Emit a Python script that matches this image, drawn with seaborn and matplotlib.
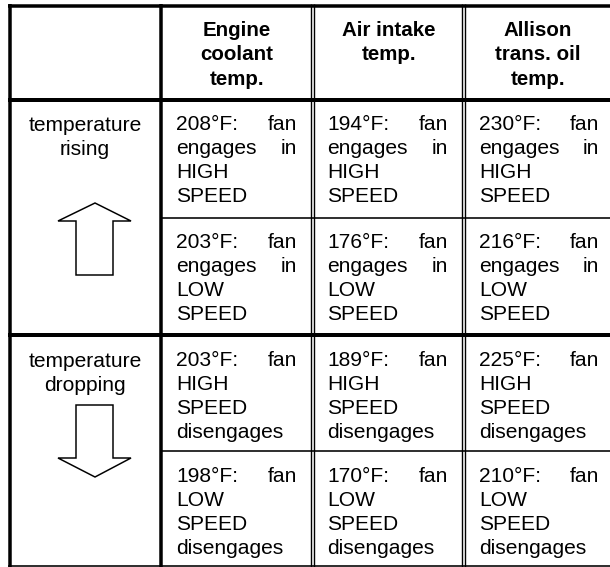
import numpy as np
import pandas as pd
import matplotlib.pyplot as plt
from matplotlib.patches import Polygon
import seaborn as sns

# Table content
headers = ["Engine\ncoolant\ntemp.", "Air intake\ntemp.", "Allison\ntrans. oil\ntemp."]
row_labels = ["temperature\nrising", "temperature\ndropping"]
rise_high = [208, 194, 230]
rise_low = [203, 176, 216]
drop_high = [203, 189, 225]
drop_low = [198, 170, 210]

# wording for each of the four body rows (lines as they wrap in the cell)
row_text = [
    ["fan", "engages in", "HIGH", "SPEED"],
    ["fan", "engages in", "LOW", "SPEED"],
    ["fan", "HIGH", "SPEED", "disengages"],
    ["fan", "LOW", "SPEED", "disengages"],
]

df = pd.DataFrame([rise_high, rise_low, drop_high, drop_low],
                  columns=["coolant", "intake", "trans"])

sns.set_style("white")
plt.rcParams['font.family'] = ['Liberation Sans', 'DejaVu Sans']
plt.rcParams['text.color'] = 'black'

W, H = 610, 567
fig = plt.figure(figsize=(W / 100, H / 100), dpi=100)
ax = fig.add_axes([0, 0, 1, 1])
ax.set_xlim(0, W)
ax.set_ylim(H, 0)
ax.axis('off')

px = 0.72  # points per pixel at 100 dpi
fs = 15.1

# layout (pixels)
row_tops = [99, 217, 335, 451]
label_center = 85
col_centers = [237, 389, 538]
text_ranges = [(176, 297), (327, 448), (479, 599)]
line_gap = 24.3

# grid lines
k = dict(color='black', solid_capstyle='butt')
ax.plot([8, W], [5.5, 5.5], lw=3.5 * px, **k)
ax.plot([9.5, 9.5], [4, 566.5], lw=3.5 * px, **k)
ax.plot([161, 161], [4, 566.5], lw=3.5 * px, **k)
for x in [310.6, 313.9, 462.4, 465.4]:
    ax.plot([x, x], [4, 566.5], lw=1.4 * px, **k)
ax.plot([8, W], [100, 100], lw=4 * px, **k)
ax.plot([8, W], [335, 335], lw=4 * px, **k)
ax.plot([161, W], [217.5, 217.5], lw=1.6 * px, **k)
ax.plot([161, W], [451, 451], lw=1.6 * px, **k)
ax.plot([8, W], [565.5, 565.5], lw=1.6 * px, **k)

# header text
for cx, h in zip(col_centers, headers):
    for i, line in enumerate(h.split("\n")):
        ax.text(cx, 36 + i * line_gap, line, ha='center', va='baseline',
                fontsize=fs - 0.3, fontweight='bold', color='black')

# row labels
for top, lab in zip([row_tops[0], row_tops[2]], row_labels):
    for i, line in enumerate(lab.split("\n")):
        ax.text(label_center, top + 32 + i * line_gap, line, ha='center',
                va='baseline', fontsize=fs, color='black')

# body cells, justified text
for r, top in enumerate(row_tops):
    for c, col in enumerate(df.columns):
        x0, x1 = text_ranges[c]
        lines = [f"{df.loc[r, col]}°F: " + row_text[r][0]] + row_text[r][1:]
        for i, line in enumerate(lines):
            y = top + 30.5 + i * line_gap
            words = line.split()
            last = i == len(lines) - 1
            if len(words) >= 2 and not last:
                ax.text(x0, y, words[0], ha='left', va='baseline', fontsize=fs, color='black')
                ax.text(x1, y, words[-1], ha='right', va='baseline', fontsize=fs, color='black')
            else:
                ax.text(x0, y, line, ha='left', va='baseline', fontsize=fs, color='black')

# arrows in the label column
def arrow(cx, tip, base, head):
    pts = [(cx - 19, base), (cx - 19, head), (cx - 37, head), (cx, tip),
           (cx + 36, head), (cx + 18, head), (cx + 18, base)]
    ax.add_patch(Polygon(pts, closed=True, facecolor='white',
                         edgecolor='black', lw=1.5 * px, joinstyle='miter'))

arrow(95, 203, 275, 221)
arrow(95, 477, 405, 458)

fig.savefig("out.png", dpi=100)
